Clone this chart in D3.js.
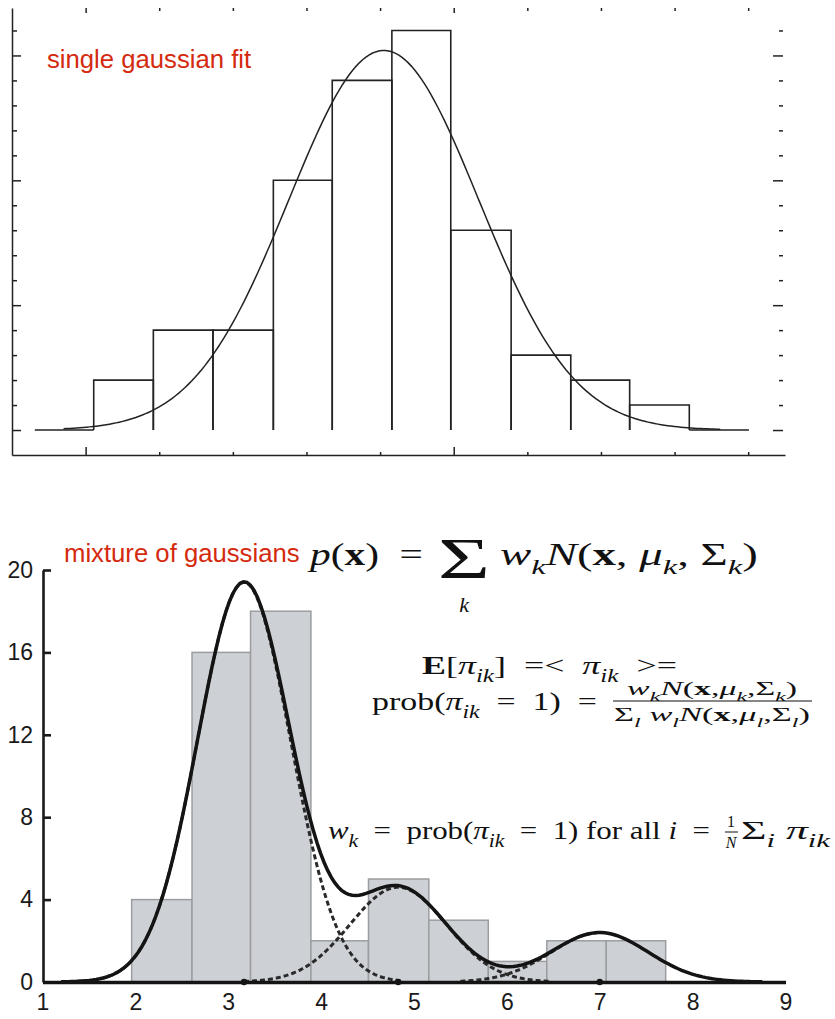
<!DOCTYPE html>
<html>
<head>
<meta charset="utf-8">
<script src="https://cdn.jsdelivr.net/npm/d3@7"></script>
<style>
  body { margin: 0; background: #fff; }
  svg { display: block; }
  text { white-space: pre; }
</style>
</head>
<body>
<script>
const width = 835
const height = 1019

const serif = "'Liberation Serif', 'Times New Roman', serif"
const sans = "'Liberation Sans', Arial, Helvetica, sans-serif"
const red = '#d42a0e'

// top panel: plain histogram + one gaussian
const topBinEdges = [-0.69, 0.11, 0.92, 1.73, 2.55, 3.35, 4.16, 4.96, 5.78, 6.59, 7.39, 8.20, 9.01]
const topCounts = [0, 2, 4, 4, 10, 14, 16, 8, 3, 2, 1, 0]
const topFit = {mean: 4.05, sd: 1.29, peak: 15.2, from: -0.3, to: 8.62}
const topXTicks = [0, 1, 2, 3, 4, 5, 6, 7, 8, 9]
const topYTicks = [0, 1, 2, 3, 4, 5, 6, 7, 8, 9, 10, 11, 12, 13, 14, 15, 16]

// bottom panel: histogram + mixture of three gaussians
const binEdges = [1.96, 2.61, 3.24, 3.89, 4.51, 5.16, 5.80, 6.43, 7.07, 7.71]
const counts = [4, 16, 18, 2, 5, 3, 1, 2, 2]
const components = [
  {mean: 3.17, sd: 0.50, peak: 19.4, from: 1.2, to: 4.85},
  {mean: 4.83, sd: 0.52, peak: 4.6, from: 3.17, to: 6.45},
  {mean: 7.00, sd: 0.52, peak: 2.4, from: 5.5, to: 7.0}
]
const mixtureRange = [1.2, 8.75]
const xTicks = [1, 2, 3, 4, 5, 6, 7, 8, 9]
const yTicks = [0, 4, 8, 12, 16, 20]

const gauss = (c, v) => c.peak * Math.exp(-((v - c.mean) ** 2) / (2 * c.sd * c.sd))
const sample = (a, b) => d3.range(a, b + 1e-9, (b - a) / 200)

const svg = d3.select('body')
  .append('svg')
  .attr('width', width)
  .attr('height', height)

// ---------- top panel ----------
const xTop = d3.scaleLinear().domain([-1, 9.5]).range([12, 785])
const yTop = d3.scaleLinear().domain([-1, 16.9]).range([455, 8])
const ink = '#222'

const topPanel = svg.append('g')

topPanel.selectAll('.tbar')
  .data(topCounts)
  .enter()
  .append('path')
  .classed('tbar', true)
  .attr('fill', 'none')
  .attr('stroke', ink)
  .attr('stroke-width', 1.6)
  .attr('d', (d, i) => `M${xTop(topBinEdges[i])},${yTop(0)}V${yTop(d)}H${xTop(topBinEdges[i + 1])}V${yTop(0)}`)

topPanel.append('path')
  .datum(sample(topFit.from, topFit.to))
  .attr('fill', 'none')
  .attr('stroke', ink)
  .attr('stroke-width', 1.5)
  .attr('d', d3.line().x((v) => xTop(v)).y((v) => yTop(gauss(topFit, v))))

const major = (d) => d % 5 === 0

const tLeft = topPanel.append('g')
  .attr('transform', `translate(${xTop(-1)},0)`)
  .call(d3.axisRight(yTop).tickValues(topYTicks).tickFormat('').tickSizeOuter(0))
tLeft.selectAll('.tick line').attr('x2', (d) => major(d) ? 9 : 5)

const tRight = topPanel.append('g')
  .attr('transform', `translate(783,0)`)
  .call(d3.axisLeft(yTop).tickValues(topYTicks).tickFormat(''))
tRight.select('.domain').remove()
tRight.selectAll('.tick line').attr('x2', (d) => major(d) ? -10 : -4)

const tTop = topPanel.append('g')
  .attr('transform', `translate(0,${yTop(16.9)})`)
  .call(d3.axisBottom(xTop).tickValues(topXTicks).tickFormat(''))
tTop.select('.domain').remove()
tTop.selectAll('.tick line').attr('y2', (d) => major(d) ? 5 : 3)

const tBottom = topPanel.append('g')
  .attr('transform', `translate(0,${yTop(-1)})`)
  .call(d3.axisTop(xTop).tickValues(topXTicks).tickFormat('').tickSizeOuter(0))
tBottom.selectAll('.tick line').attr('y2', (d) => major(d) ? -8 : -3)

topPanel.selectAll('.domain, .tick line').attr('stroke', ink).attr('stroke-width', 1.5)

topPanel.append('text')
  .attr('x', 47)
  .attr('y', 68)
  .attr('font-family', sans)
  .attr('font-size', 25.7)
  .attr('fill', red)
  .text('single gaussian fit')

// ---------- bottom panel ----------
const x = d3.scaleLinear().domain([1, 9]).range([42.5, 785.5])
const y = d3.scaleLinear().domain([0, 20]).range([982, 570])

const bottomPanel = svg.append('g')

bottomPanel.selectAll('.bar')
  .data(counts)
  .enter()
  .append('rect')
  .classed('bar', true)
  .attr('x', (d, i) => x(binEdges[i]))
  .attr('width', (d, i) => x(binEdges[i + 1]) - x(binEdges[i]))
  .attr('y', (d) => y(d))
  .attr('height', (d) => y(0) - y(d))
  .attr('fill', '#cdd0d5')
  .attr('stroke', '#9b9da0')
  .attr('stroke-width', 1.5)

bottomPanel.selectAll('.comp')
  .data(components)
  .enter()
  .append('path')
  .classed('comp', true)
  .attr('fill', 'none')
  .attr('stroke', '#2a2a2a')
  .attr('stroke-width', 3)
  .attr('stroke-dasharray', '5,3')
  .attr('d', (c) => d3.line().x((v) => x(v)).y((v) => y(gauss(c, v)))(sample(c.from, c.to)))

bottomPanel.append('path')
  .datum(sample(mixtureRange[0], mixtureRange[1]))
  .attr('fill', 'none')
  .attr('stroke', '#141414')
  .attr('stroke-width', 3.5)
  .attr('d', d3.line().x((v) => x(v)).y((v) => y(d3.sum(components, (c) => gauss(c, v)))))

const yAxis = bottomPanel.append('g')
  .attr('transform', `translate(${x(1) + 0.5},0)`)
  .call(d3.axisLeft(y).tickValues(yTicks).tickSize(-8).tickSizeOuter(0).tickPadding(10))

const xAxis = bottomPanel.append('g')
  .attr('transform', `translate(0,${y(0)})`)
  .call(d3.axisBottom(x).tickValues(xTicks).tickSize(0).tickSizeOuter(0).tickPadding(12))

yAxis.selectAll('.domain, .tick line').attr('stroke', '#1a1a1a').attr('stroke-width', 2.6)
xAxis.select('.domain').attr('stroke', '#141414').attr('stroke-width', 3.5)
bottomPanel.selectAll('.tick text')
  .attr('font-family', sans)
  .attr('font-size', 23)
  .attr('fill', '#1a1a1a')

bottomPanel.selectAll('.mean')
  .data(components)
  .enter()
  .append('circle')
  .classed('mean', true)
  .attr('cx', (c) => x(c.mean))
  .attr('cy', y(0))
  .attr('r', 3.2)
  .attr('fill', '#141414')

bottomPanel.append('text')
  .attr('x', 64)
  .attr('y', 562)
  .attr('font-family', sans)
  .attr('font-size', 25.7)
  .attr('fill', red)
  .text('mixture of gaussians')

// ---------- formulas ----------
// parts: [string, flags] ; i = italic, b = bold, _ = subscript
const mathText = (px, py, size, parts, targetWidth, anchor) => {
  const g = svg.append('g')
  const t = g.append('text')
    .attr('font-family', serif)
    .attr('font-size', size)
    .attr('fill', '#111')
    .attr('text-anchor', anchor || 'start')
  let shift = 0
  for (const [s, f] of parts) {
    const sub = f.includes('_')
    const want = sub ? size * 0.3 : 0
    t.append('tspan')
      .attr('dy', want - shift)
      .attr('font-size', sub ? size * 0.7 : size)
      .attr('font-style', f.includes('i') ? 'italic' : 'normal')
      .attr('font-weight', f.includes('b') ? 'bold' : 'normal')
      .text(s)
    shift = want
  }
  const sx = targetWidth ? targetWidth / t.node().getComputedTextLength() : 1
  g.attr('transform', `translate(${px},${py}) scale(${sx},1)`)
  return g
}

mathText(310, 565, 31, [['p', 'i'], ['(', ''], ['x', 'b'], [')  =', '']], 113)
// display-style sum sign
mathText(464, 578, 56, [['Σ', '']], 52, 'middle')
mathText(464, 612, 22, [['k', 'i']], null, 'middle')
mathText(500, 565, 31, [['w', 'i'], ['k', 'i_'], ['N', 'i'], ['(', ''], ['x', 'b'], [', ', ''], ['μ', 'i'], ['k', 'i_'], [', Σ', ''], ['k', 'i_'], [')', '']], 258)

mathText(422, 674, 26, [['E', 'b'], ['[', ''], ['π', 'i'], ['ik', 'i_'], [']  =<  ', ''], ['π', 'i'], ['ik', 'i_'], ['  >=', '']], 255)
mathText(372, 710, 26, [['prob(', ''], ['π', 'i'], ['ik', 'i_'], ['  =  1)  =', '']], 225)
mathText(712, 695, 19, [['w', 'i'], ['k', 'i_'], ['N', 'i'], ['(', ''], ['x', 'b'], [',', ''], ['μ', 'i'], ['k', 'i_'], [',Σ', ''], ['k', 'i_'], [')', '']], 170, 'middle')
svg.append('line')
  .attr('x1', 613).attr('x2', 812)
  .attr('y1', 701).attr('y2', 701)
  .attr('stroke', '#111').attr('stroke-width', 1.2)
mathText(712, 721, 19, [['Σ', ''], ['l', 'i_'], [' w', 'i'], ['l', 'i_'], ['N', 'i'], ['(', ''], ['x', 'b'], [',', ''], ['μ', 'i'], ['l', 'i_'], [',Σ', ''], ['l', 'i_'], [')', '']], 196, 'middle')

mathText(328, 839, 26, [['w', 'i'], ['k', 'i_'], ['  =  prob(', ''], ['π', 'i'], ['ik', 'i_'], ['  =  1) for all ', ''], ['i', 'i'], ['  =', '']], 382)
mathText(731, 827, 16, [['1', '']], null, 'middle')
svg.append('line')
  .attr('x1', 725).attr('x2', 738)
  .attr('y1', 832).attr('y2', 832)
  .attr('stroke', '#111').attr('stroke-width', 1)
mathText(731, 848, 16, [['N', 'i']], null, 'middle')
mathText(741, 839, 26, [['Σ', ''], ['i', 'i_'], [' π', 'i'], ['ik', 'i_']], 89)
</script>
</body>
</html>
